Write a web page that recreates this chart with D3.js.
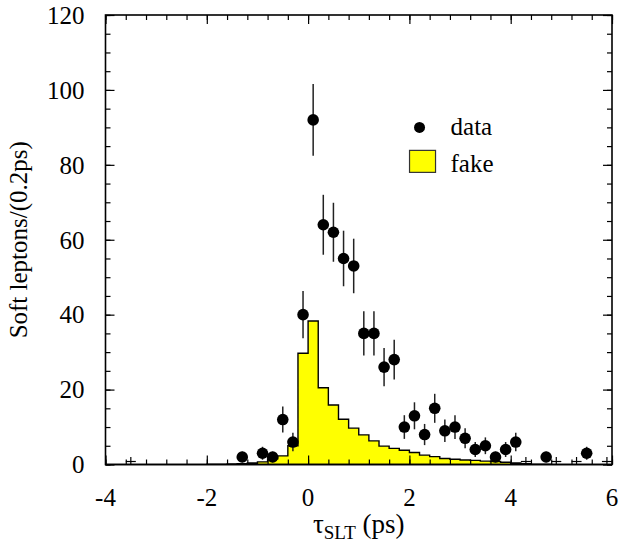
<!DOCTYPE html>
<html>
<head>
<meta charset="utf-8">
<script src="https://cdn.jsdelivr.net/npm/d3@7"></script>
<style>
  body { margin: 0; background: #fff; }
  svg { display: block; font-family: "Liberation Serif", "Times New Roman", serif; }
</style>
</head>
<body>
<svg id="chart" width="619" height="546"></svg>
<script>
// data points (bin centres, counts)
const dataX = [-1.3, -0.9, -0.7, -0.5, -0.3, -0.1, 0.1, 0.3, 0.5, 0.7, 0.9, 1.1, 1.3, 1.5, 1.7,
               1.9, 2.1, 2.3, 2.5, 2.7, 2.9, 3.1, 3.3, 3.5, 3.7, 3.9, 4.1, 4.7, 5.5];
const dataY = [2, 3, 2, 12, 6, 40, 92, 64, 62, 55, 53, 35, 35, 26, 28,
               10, 13, 8, 15, 9, 10, 7, 4, 5, 2, 4, 6, 2, 3];

// single entries drawn only as small crosses
const crossX = [-3.5, 4.3, 4.9, 5.3, 5.9];
const crossY = [1, 1, 1, 1, 1];

// fake background histogram, 0.2 ps bins starting at -4
const fakeEdges = d3.range(50).map(i => -4 + i * 0.2);
const fakeVals = [0, 0, 0, 0, 0, 0, 0, 0, 0, 0,
                  0.1, 0.1, 0.15, 0.2, 0.4, 0.7, 1.5, 2.3, 5.0, 29.7,
                  38.3, 20.5, 15.9, 12.1, 9.7, 7.9, 6.3, 4.9, 4.3, 3.8,
                  3.2, 2.5, 2.1, 1.6, 1.4, 1.2, 1.1, 0.9, 0.8, 0.6,
                  0.4, 0.2, 0.1, 0.05, 0, 0, 0, 0, 0, 0];
const binW = 0.2;

const xMajor = [-4, -2, 0, 2, 4, 6];
const yMajor = [0, 20, 40, 60, 80, 100, 120];

const margin = { top: 15, right: 7, bottom: 81.5, left: 105.5 },
      width = 619 - margin.left - margin.right,
      height = 546 - margin.top - margin.bottom;

const svg = d3.select("#chart")
  .append("g")
  .attr("transform", `translate(${margin.left},${margin.top})`);

const x = d3.scaleLinear().domain([-4, 6]).range([0, width]);
const y = d3.scaleLinear().domain([0, 120]).range([height, 0]);

// fake histogram as a step outline
const pts = [[x(-4), y(0)]];
fakeEdges.forEach((e, i) => {
  pts.push([x(e), y(fakeVals[i])]);
  pts.push([x(e + binW), y(fakeVals[i])]);
});
pts.push([x(6), y(0)]);

svg.append("path")
  .attr("d", d3.line()(pts) + "Z")
  .attr("fill", "#ffff00")
  .attr("stroke", "#000")
  .attr("stroke-width", 1.4);

// axes with inward ticks
const xMinor = d3.range(-4, 6.001, 0.4).map(v => +v.toFixed(1));
const yMinor = d3.range(0, 121, 5);

function ticks(axis, vals, size, transform) {
  const g = svg.append("g")
    .attr("transform", transform)
    .call(axis.tickValues(vals).tickSize(size).tickFormat(""));
  g.select(".domain").remove();
  g.selectAll("line").attr("stroke", "#000").attr("stroke-width", 1.2);
  return g;
}

ticks(d3.axisBottom(x), xMinor, -5, `translate(0,${height})`);
ticks(d3.axisBottom(x), xMajor, -9, `translate(0,${height})`);
ticks(d3.axisTop(x), xMinor, -5, "translate(0,0)");
ticks(d3.axisTop(x), xMajor, -9, "translate(0,0)");
ticks(d3.axisLeft(y), yMinor, -5, "translate(0,0)");
ticks(d3.axisLeft(y), yMajor, -9, "translate(0,0)");
ticks(d3.axisRight(y), yMinor, -5, `translate(${width},0)`);
ticks(d3.axisRight(y), yMajor, -9, `translate(${width},0)`);

svg.append("rect")
  .attr("width", width)
  .attr("height", height)
  .attr("fill", "none")
  .attr("stroke", "#000")
  .attr("stroke-width", 1.6);

// tick labels
svg.selectAll(".xl")
  .data(xMajor)
  .join("text")
  .attr("x", d => x(d))
  .attr("y", height + 41)
  .attr("text-anchor", "middle")
  .attr("font-size", "25px")
  .text(d => d);

svg.selectAll(".yl")
  .data(yMajor)
  .join("text")
  .attr("x", -21)
  .attr("y", d => y(d))
  .attr("dy", "0.35em")
  .attr("text-anchor", "end")
  .attr("font-size", "25px")
  .text(d => d);

// crosses
crossX.forEach((cx, i) => {
  const v = crossY[i];
  svg.append("line")
    .attr("x1", x(cx)).attr("x2", x(cx))
    .attr("y1", y(Math.max(0, v - 1))).attr("y2", y(v + 1))
    .attr("stroke", "#000").attr("stroke-width", 1.2);
  svg.append("line")
    .attr("x1", x(cx) - 5).attr("x2", x(cx) + 5)
    .attr("y1", y(v * 0.8)).attr("y2", y(v * 0.8))
    .attr("stroke", "#000").attr("stroke-width", 1.2);
});

// error bars and points
const pts2 = dataX.map((d, i) => ({ x: d, y: dataY[i] }));

svg.selectAll(".err")
  .data(pts2)
  .join("line")
  .attr("x1", d => x(d.x)).attr("x2", d => x(d.x))
  .attr("y1", d => y(d.y - Math.sqrt(d.y)))
  .attr("y2", d => y(d.y + Math.sqrt(d.y)))
  .attr("stroke", "#222")
  .attr("stroke-width", 1.5);

svg.selectAll(".dot")
  .data(pts2)
  .join("circle")
  .attr("cx", d => x(d.x))
  .attr("cy", d => y(d.y))
  .attr("r", 5.8)
  .attr("fill", "#000");

// legend
const legend = svg.append("g").attr("transform", `translate(${x(2.2)},${y(90)})`);
legend.append("circle").attr("cx", 0).attr("cy", 0).attr("r", 5.5).attr("fill", "#000");
legend.append("text").attr("x", 31).attr("y", 8).attr("font-size", "25px").text("data");
legend.append("rect")
  .attr("x", -10).attr("y", 23).attr("width", 26).attr("height", 22)
  .attr("fill", "#ffff00").attr("stroke", "#333").attr("stroke-width", 1.2);
legend.append("text").attr("x", 31).attr("y", 45).attr("font-size", "25px").text("fake");

// axis titles
const xt = svg.append("text")
  .attr("x", x(1))
  .attr("y", height + 68)
  .attr("text-anchor", "middle")
  .attr("font-size", "27px");
xt.append("tspan").text("τ");
xt.append("tspan").attr("font-size", "19px").attr("dy", 6).text("SLT");
xt.append("tspan").attr("dy", -6).text(" (ps)");

svg.append("text")
  .attr("transform", `translate(${-margin.left + 27},${y(60)}) rotate(-90)`)
  .attr("text-anchor", "middle")
  .attr("font-size", "25px")
  .text("Soft leptons/(0.2ps)");
</script>
</body>
</html>
